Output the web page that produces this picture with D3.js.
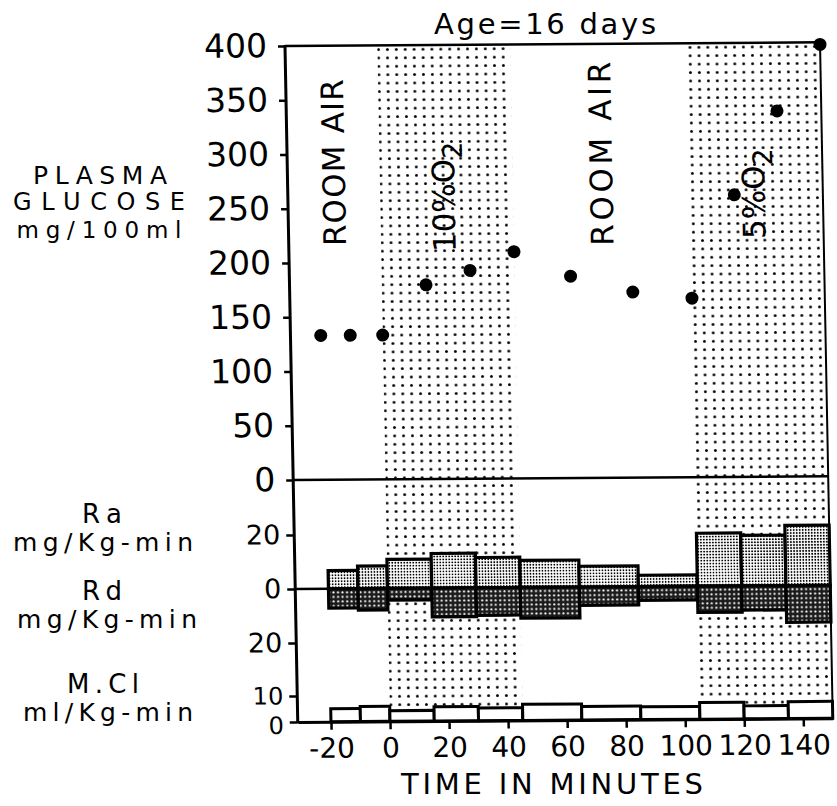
<!DOCTYPE html>
<html>
<head>
<meta charset="utf-8">
<script src="https://cdn.jsdelivr.net/npm/d3@7"></script>
<style>
body { margin: 0; background: #fff; }
svg { display: block; }
</style>
</head>
<body>
<svg width="837" height="806"></svg>
<script>
// glucose samples
const times = [-21, -11, 0, 15, 30, 45, 64, 85, 105, 120, 135, 150];
const glucose = [133, 133, 133, 179, 192, 209, 186, 171, 165, 260, 337, 398];

// turnover periods (bars)
const periodStart = [-20, -10, 0, 15, 30, 45, 65, 85, 105, 120, 135];
const periodEnd = [-10, 0, 15, 30, 45, 65, 85, 105, 120, 135, 150];
const ra = [6.7, 8.3, 10.7, 12.8, 11.2, 10.0, 7.7, 4.2, 19.6, 18.7, 22.3];
const rd = [7.2, 8.0, 4.4, 10.7, 10.2, 11.4, 6.8, 5.1, 9.7, 9.0, 13.6];
const mcl = [5.0, 5.8, 4.1, 5.5, 4.9, 6.2, 5.2, 4.9, 6.4, 5.0, 6.5];

// conditions
const condNames = ["ROOM AIR", "10%O2", "ROOM AIR", "5%O2"];
const condFrom = [-31.25, 0, 45, 105];
const condTo = [0, 45, 105, 150];
const condHypoxic = [false, true, false, true];

const glucoseTicks = [0, 50, 100, 150, 200, 250, 300, 350, 400];
const timeTicks = [-20, 0, 20, 40, 60, 80, 100, 120, 140];

const font = "'DejaVu Sans', sans-serif";
const W = 535, H = 676;

let svg = d3.select('svg');

// patterns
let defs = svg.append('defs');
let hyp = defs.append('pattern').attr('id', 'hyp')
    .attr('patternUnits', 'userSpaceOnUse')
    .attr('width', 8.9).attr('height', 8.4);
hyp.append('circle').attr('cx', 4.4).attr('cy', 4.2).attr('r', 1.45).attr('fill', '#000');

let raPat = defs.append('pattern').attr('id', 'raPat')
    .attr('patternUnits', 'userSpaceOnUse')
    .attr('width', 3).attr('height', 3);
raPat.append('rect').attr('width', 3).attr('height', 3).attr('fill', '#fff');
raPat.append('circle').attr('cx', 1.5).attr('cy', 1.5).attr('r', 0.95).attr('fill', '#000');

let rdPat = defs.append('pattern').attr('id', 'rdPat')
    .attr('patternUnits', 'userSpaceOnUse')
    .attr('width', 4.5).attr('height', 4.5);
rdPat.append('rect').attr('width', 4.5).attr('height', 4.5).attr('fill', '#1c1c1c');
rdPat.append('circle').attr('cx', 2.2).attr('cy', 2.2).attr('r', 1.05).attr('fill', '#fff');

// whole plot, slightly tilted like the scanned page
let chart = svg.append('g')
    .attr('transform', 'matrix(1,-0.00701,0.01886,1,285,46)');

let x = d3.scaleLinear().domain([-31.25, 150]).range([0, W]);
let yG = d3.scaleLinear().domain([0, 400]).range([434, 0]);
let yRa = d3.scaleLinear().domain([0, 20]).range([543, 489]);
let yRd = d3.scaleLinear().domain([0, 20]).range([543, 597]);
let yM = d3.scaleLinear().domain([0, 10]).range([676, 650]);

let conds = condNames.map((n, i) => ({ name: n, from: condFrom[i], to: condTo[i], hyp: condHypoxic[i] }));

chart.selectAll('rect.hyp')
    .data(conds.filter(d => d.hyp))
    .enter().append('rect')
    .attr('class', 'hyp')
    .attr('x', d => x(d.from))
    .attr('width', d => x(d.to) - x(d.from))
    .attr('y', 2)
    .attr('height', H - 2)
    .attr('fill', 'url(#hyp)');

// frame lines
chart.append('line').attr('x1', 0).attr('x2', W).attr('y1', yG(400)).attr('y2', yG(400))
    .attr('stroke', '#000').attr('stroke-width', 2.5);
chart.append('line').attr('x1', W).attr('x2', W).attr('y1', yG(400)).attr('y2', H)
    .attr('stroke', '#000').attr('stroke-width', 2);
chart.append('line').attr('x1', 0).attr('x2', W).attr('y1', yG(0)).attr('y2', yG(0))
    .attr('stroke', '#000').attr('stroke-width', 2.5);
chart.append('line').attr('x1', 0).attr('x2', W).attr('y1', yRa(0)).attr('y2', yRa(0))
    .attr('stroke', '#000').attr('stroke-width', 2.5);

let bars = periodStart.map((s, i) => ({ s: s, e: periodEnd[i], ra: ra[i], rd: rd[i], m: mcl[i] }));

chart.selectAll('rect.ra')
    .data(bars)
    .enter().append('rect')
    .attr('class', 'ra')
    .attr('x', d => x(d.s))
    .attr('width', d => x(d.e) - x(d.s))
    .attr('y', d => yRa(d.ra))
    .attr('height', d => yRa(0) - yRa(d.ra))
    .attr('fill', 'url(#raPat)')
    .attr('stroke', '#000').attr('stroke-width', 3.2);

chart.selectAll('rect.rd')
    .data(bars)
    .enter().append('rect')
    .attr('class', 'rd')
    .attr('x', d => x(d.s))
    .attr('width', d => x(d.e) - x(d.s))
    .attr('y', yRd(0))
    .attr('height', d => yRd(d.rd) - yRd(0))
    .attr('fill', 'url(#rdPat)')
    .attr('stroke', '#000').attr('stroke-width', 3.2);

chart.selectAll('rect.mcl')
    .data(bars)
    .enter().append('rect')
    .attr('class', 'mcl')
    .attr('x', d => x(d.s))
    .attr('width', d => x(d.e) - x(d.s))
    .attr('y', d => yM(d.m))
    .attr('height', d => yM(0) - yM(d.m))
    .attr('fill', '#fff')
    .attr('stroke', '#000').attr('stroke-width', 3);

// glucose points
chart.selectAll('circle.pt')
    .data(times)
    .enter().append('circle')
    .attr('class', 'pt')
    .attr('cx', d => x(d))
    .attr('cy', (d, i) => yG(glucose[i]))
    .attr('r', 6.5)
    .attr('fill', '#000');

// y axis line
chart.append('line').attr('x1', 0).attr('x2', 0).attr('y1', yG(400) - 1).attr('y2', H + 1)
    .attr('stroke', '#000').attr('stroke-width', 3);

function styleAxis(g, size, dx) {
    g.select('.domain').remove();
    g.selectAll('.tick line').attr('stroke', '#000').attr('stroke-width', 2.5);
    g.selectAll('.tick text')
        .attr('font-family', font)
        .attr('font-size', size)
        .attr('fill', '#000')
        .attr('x', dx);
}

chart.append('g')
    .call(d3.axisLeft(yG).tickValues(glucoseTicks).tickSize(7))
    .call(g => styleAxis(g, 33, -18));

chart.append('g')
    .call(d3.axisLeft(yRa).tickValues([0, 20]).tickSize(8))
    .call(g => styleAxis(g, 27, -14));
chart.append('g')
    .call(d3.axisLeft(yRd).tickValues([20]).tickSize(8))
    .call(g => styleAxis(g, 27, -14));
chart.append('g')
    .call(d3.axisLeft(yM).tickValues([0, 10]).tickSize(8))
    .call(g => styleAxis(g, 24, -14))
    .call(g => g.selectAll('.tick text').filter(d => d === 0).attr('dy', '0.47em'));

let xAxis = chart.append('g')
    .attr('transform', `translate(0, ${H})`)
    .call(d3.axisBottom(x).tickValues(timeTicks).tickFormat(d => String(d)).tickSize(8).tickSizeOuter(0));
xAxis.select('.domain').attr('stroke', '#000').attr('stroke-width', 3);
xAxis.selectAll('.tick line').attr('stroke', '#000').attr('stroke-width', 2.5);
xAxis.selectAll('.tick text')
    .attr('font-family', font)
    .attr('font-size', 28)
    .attr('fill', '#000')
    .attr('y', 36)
    .attr('dy', 0);

// condition labels, written upwards
let labelY = [117, 152, 110, 151];
let labelLen = [167, 100, 184, 80];
let labels = chart.selectAll('text.cond')
    .data(conds)
    .enter().append('text')
    .attr('class', 'cond')
    .attr('transform', (d, i) => `translate(${x((d.from + d.to) / 2) + (d.hyp ? -3 : 0)}, ${labelY[i]}) rotate(-90)`)
    .attr('text-anchor', 'middle')
    .attr('dy', '0.36em')
    .attr('font-family', font)
    .attr('font-size', 31)
    .attr('fill', '#000');
labels.each(function(d, i) {
    let t = d3.select(this);
    if (d.hyp) {
        t.append('tspan').text(d.name.slice(0, -1));
        t.append('tspan').attr('dy', '0.3em').attr('font-size', 27).text(d.name.slice(-1));
    } else {
        t.attr('textLength', labelLen[i]).attr('lengthAdjust', 'spacing').text(d.name);
    }
});

// titles outside the frame
svg.append('text')
    .attr('x', 545).attr('y', 34)
    .attr('text-anchor', 'middle')
    .attr('font-family', font).attr('font-size', 29)
    .attr('textLength', 222).attr('lengthAdjust', 'spacing')
    .text('Age=16 days');

let sideLabels = [
    { t: 'PLASMA', x: 100, y: 184, s: 25, w: 134 },
    { t: 'GLUCOSE', x: 99, y: 210, s: 24, w: 172 },
    { t: 'mg/100ml', x: 99, y: 238, s: 23, w: 165 },
    { t: 'Ra', x: 102, y: 523, s: 26, w: 40 },
    { t: 'mg/Kg-min', x: 103, y: 551, s: 25, w: 180 },
    { t: 'Rd', x: 102, y: 600, s: 26, w: 40 },
    { t: 'mg/Kg-min', x: 107, y: 628, s: 25, w: 180 },
    { t: 'M.Cl', x: 103, y: 693, s: 26, w: 72 },
    { t: 'ml/Kg-min', x: 108, y: 721, s: 25, w: 170 }
];
svg.selectAll('text.side')
    .data(sideLabels)
    .enter().append('text')
    .attr('class', 'side')
    .attr('x', d => d.x).attr('y', d => d.y)
    .attr('text-anchor', 'middle')
    .attr('font-family', font)
    .attr('font-size', d => d.s)
    .attr('textLength', d => d.w).attr('lengthAdjust', 'spacing')
    .text(d => d.t);

svg.append('text')
    .attr('x', 552).attr('y', 794)
    .attr('text-anchor', 'middle')
    .attr('font-family', font).attr('font-size', 29)
    .attr('textLength', 302).attr('lengthAdjust', 'spacing')
    .text('TIME IN MINUTES');
</script>
</body>
</html>
